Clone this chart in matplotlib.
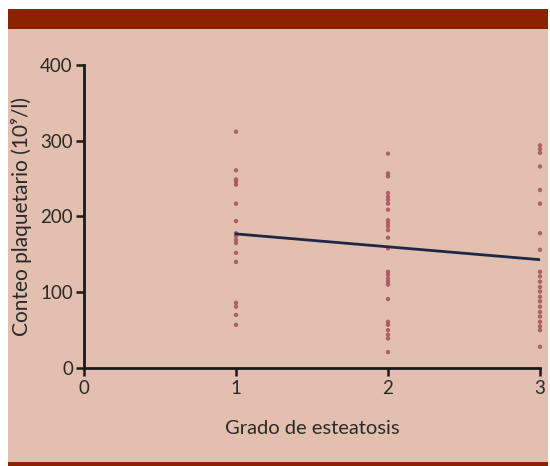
import matplotlib.pyplot as plt
from matplotlib.patches import Rectangle

# platelet counts per steatosis grade
grado_1 = [312, 261, 249, 246, 242, 217, 194, 178, 174, 169, 165, 152, 140, 86, 81, 70, 57]
grado_2 = [283, 257, 253, 231, 226, 222, 217, 209, 195, 191, 187, 182, 172, 158,
           127, 123, 118, 114, 110, 91, 61, 57, 50, 44, 39, 21]
grado_3 = [294, 289, 284, 266, 235, 217, 178, 156, 127, 121, 114, 107, 101, 94, 88,
           81, 74, 68, 61, 55, 50, 28]

# regression line endpoints
linea_x = [1, 3]
linea_y = [177, 143]

x_ticks = [0, 1, 2, 3]
y_ticks = [0, 100, 200, 300, 400]

plt.rcParams['font.family'] = ['Lato', 'DejaVu Sans']

fig = plt.figure(figsize=(5.5, 4.66), dpi=100)
fig.patch.set_facecolor('white')

# beige panel with dark red bars
W, H = 550, 466
fig.add_artist(Rectangle((8 / W, 0), 540 / W, 1 - 9 / H, transform=fig.transFigure,
                         facecolor='#e2bfae', edgecolor='none', zorder=0))
fig.add_artist(Rectangle((8 / W, 1 - 29 / H), 540 / W, 20 / H, transform=fig.transFigure,
                         facecolor='#8b2200', edgecolor='none', zorder=1))
fig.add_artist(Rectangle((8 / W, 0), 540 / W, 4 / H, transform=fig.transFigure,
                         facecolor='#8b2200', edgecolor='none', zorder=1))

ax = fig.add_axes([84 / W, 1 - 368 / H, 456 / W, 303 / H])
ax.set_facecolor('none')

for grado, valores in zip([1, 2, 3], [grado_1, grado_2, grado_3]):
    ax.scatter([grado] * len(valores), valores, s=10, color='#a8505c',
               alpha=0.85, edgecolors='none', zorder=3, clip_on=False)

ax.plot(linea_x, linea_y, color='#1f2748', lw=2, zorder=4)

ax.set_xlim(0, 3)
ax.set_ylim(0, 400)
ax.set_xticks(x_ticks)
ax.set_yticks(y_ticks)
ax.spines['top'].set_visible(False)
ax.spines['right'].set_visible(False)
for s in ['left', 'bottom']:
    ax.spines[s].set_linewidth(2)
    ax.spines[s].set_color('#1a1a1a')
ax.tick_params(axis='both', length=6, width=1.8, color='#1a1a1a',
               labelsize=13.5, labelcolor='#2a2a2a')
ax.tick_params(axis='x', pad=3)
ax.tick_params(axis='y', pad=2)

ax.set_xlabel('Grado de esteatosis', fontsize=14.5, color='#2a2a2a', labelpad=16)
ax.set_ylabel('Conteo plaquetario (10⁹/l)', fontsize=15, color='#2a2a2a', labelpad=6)

fig.savefig('out.png', dpi=100, facecolor=fig.get_facecolor())
